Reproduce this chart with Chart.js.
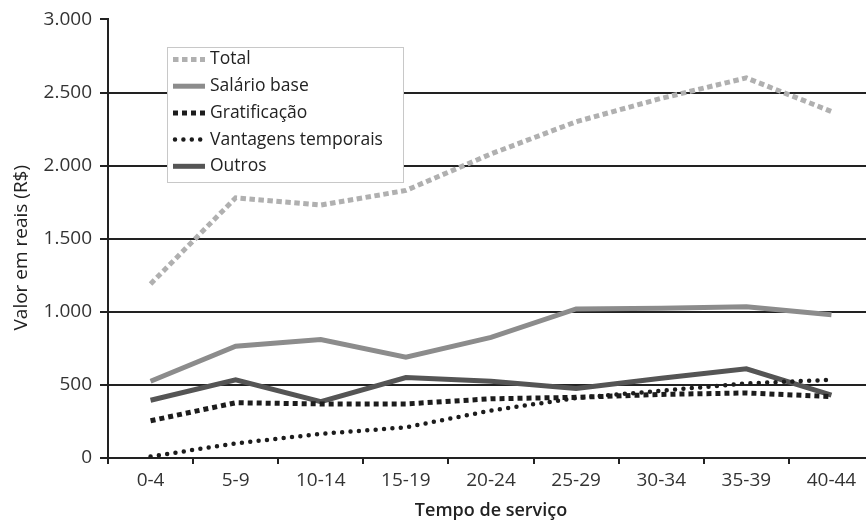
<!DOCTYPE html>
<html>
<head>
<meta charset="utf-8">
<script src="https://cdn.jsdelivr.net/npm/chart.js@4/dist/chart.umd.min.js"></script>
<style>
  html, body { margin: 0; padding: 0; background: #fff; overflow: hidden; }
  #wrap { width: 875px; height: 522px; position: relative; }
</style>
</head>
<body>
<div id="wrap"><canvas id="c"></canvas></div>
<script>
// Remuneração média por faixa de tempo de serviço (R$)
const categories = ['0-4', '5-9', '10-14', '15-19', '20-24', '25-29', '30-34', '35-39', '40-44'];
const total = [1190, 1780, 1730, 1830, 2080, 2300, 2460, 2600, 2370];
const salarioBase = [525, 765, 810, 690, 825, 1020, 1025, 1035, 980];
const gratificacao = [255, 378, 370, 370, 405, 415, 435, 445, 420];
const vantagensTemporais = [10, 100, 165, 210, 325, 410, 460, 510, 535];
const outros = [395, 535, 385, 550, 525, 475, 545, 610, 430];
const yTickLabels = ['0', '500', '1.000', '1.500', '2.000', '2.500', '3.000'];
const yTitle = 'Valor em reais (R$)';

const FONT = "'Open Sans', 'DejaVu Sans', sans-serif";
const INK = '#222';

// Legend drawn in a white box inside the plot area
const boxLegend = {
  id: 'boxLegend',
  afterDraw(chart) {
    const ctx = chart.ctx;
    const x = 167, y = 47, w = 236, h = 135;
    ctx.save();
    ctx.fillStyle = '#fff';
    ctx.fillRect(x, y, w, h);
    ctx.strokeStyle = '#c8c8c8';
    ctx.lineWidth = 1;
    ctx.strokeRect(x + 0.5, y + 0.5, w, h);
    ctx.font = '17.5px ' + FONT;
    ctx.textBaseline = 'middle';
    ctx.fillStyle = INK;
    chart.data.datasets.forEach((ds, i) => {
      const cy = y + 12.5 + i * 26.7;
      ctx.save();
      ctx.strokeStyle = ds.borderColor;
      ctx.lineWidth = ds.borderWidth;
      ctx.lineCap = ds.borderCapStyle || 'butt';
      ctx.setLineDash(ds.borderDash || []);
      ctx.beginPath();
      const x0 = ds.borderCapStyle === 'round' ? 175 : 173;
      ctx.moveTo(x0, cy);
      ctx.lineTo(205, cy);
      ctx.stroke();
      ctx.restore();
      ctx.fillText(ds.label, 210, cy);
    });
    ctx.restore();
  }
};

// Vertical axis title, set a little below the middle of the axis
const yAxisTitle = {
  id: 'yAxisTitle',
  afterDraw(chart) {
    const ctx = chart.ctx;
    const area = chart.chartArea;
    ctx.save();
    ctx.translate(22, (area.top + area.bottom) / 2 + 9);
    ctx.rotate(-Math.PI / 2);
    ctx.font = '19px ' + FONT;
    ctx.fillStyle = INK;
    ctx.textAlign = 'center';
    ctx.textBaseline = 'middle';
    ctx.fillText(yTitle, 0, 0);
    ctx.restore();
  }
};

new Chart(document.getElementById('c'), {
  type: 'line',
  data: {
    labels: categories,
    datasets: [
      { label: 'Total', data: total, borderColor: '#b0b0b0', borderWidth: 5, borderDash: [5.5, 3.5] },
      { label: 'Salário base', data: salarioBase, borderColor: '#8c8c8c', borderWidth: 5 },
      { label: 'Gratificação', data: gratificacao, borderColor: '#1c1c1c', borderWidth: 5, borderDash: [5, 4] },
      { label: 'Vantagens temporais', data: vantagensTemporais, borderColor: '#1c1c1c', borderWidth: 4.5,
        borderDash: [0, 8.4], borderCapStyle: 'round' },
      { label: 'Outros', data: outros, borderColor: '#555555', borderWidth: 5 }
    ]
  },
  options: {
    responsive: true,
    maintainAspectRatio: false,
    animation: false,
    layout: { padding: { top: 19, right: 1, bottom: 0, left: 0 } },
    elements: { point: { radius: 0, hoverRadius: 0 }, line: { tension: 0, borderJoinStyle: 'miter' } },
    plugins: { legend: { display: false }, tooltip: { enabled: false } },
    scales: {
      x: {
        type: 'category',
        offset: true,
        grid: { offset: true, drawOnChartArea: false, drawTicks: true, tickLength: 6, color: INK, lineWidth: 2 },
        border: { display: true, color: INK, width: 2 },
        ticks: { color: '#333', font: { family: FONT, size: 19 }, padding: 5, maxRotation: 0, autoSkip: false },
        title: { display: true, text: 'Tempo de serviço', color: INK,
                 font: { family: FONT, size: 18, weight: '600' }, padding: { top: 0, bottom: 0 } },
        afterFit(scale) { scale.height = 64; }
      },
      y: {
        min: 0,
        max: 3000,
        ticks: {
          stepSize: 500,
          color: '#333',
          font: { family: FONT, size: 19 },
          padding: 8,
          callback: (value) => yTickLabels[Math.round(value / 500)]
        },
        grid: {
          color: (c) => (c.tick && c.tick.value === 3000) ? 'rgba(0,0,0,0)' : INK,
          tickColor: INK,
          lineWidth: 2,
          tickLength: 8
        },
        border: { display: true, color: INK, width: 2 },
        title: { display: false },
        afterFit(scale) { scale.width = 108; }
      }
    }
  },
  plugins: [boxLegend, yAxisTitle]
});
</script>
</body>
</html>
